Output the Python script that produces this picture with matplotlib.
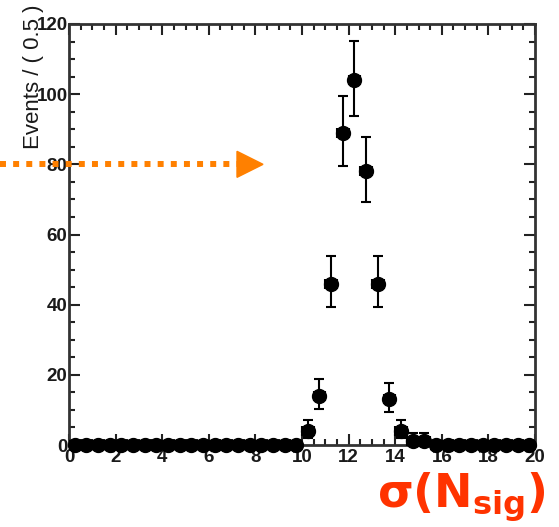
import numpy as np
import matplotlib
matplotlib.use("Agg")
import matplotlib.pyplot as plt
from matplotlib.ticker import MultipleLocator

# ---- data ----
bin_centers = np.arange(0.25, 20.0, 0.5)
nonzero_centers = [10.25, 10.75, 11.25, 11.75, 12.25, 12.75, 13.25, 13.75, 14.25, 14.75, 15.25]
nonzero_counts = [4, 14, 46, 89, 104, 78, 46, 13, 4, 1, 1]
counts = np.zeros_like(bin_centers)
for c, n in zip(nonzero_centers, nonzero_counts):
    counts[np.argmin(np.abs(bin_centers - c))] = n

x_ticks = [0, 2, 4, 6, 8, 10, 12, 14, 16, 18, 20]
y_ticks = [0, 20, 40, 60, 80, 100, 120]
ylabel_text = "Events / ( 0.5 )"
arrow_y = 80

# Poisson (Garwood) errors via Wilson-Hilferty approximation
def poisson_err(n):
    n = np.asarray(n, dtype=float)
    safe = np.maximum(n, 1e-9)
    lo = np.where(n > 0, n - n * (1 - 1 / (9 * safe) - 1 / (3 * np.sqrt(safe))) ** 3, 0)
    up = (n + 1) * (1 - 1 / (9 * (n + 1)) + 1 / (3 * np.sqrt(n + 1))) ** 3 - n
    return lo, up

fig = plt.figure(figsize=(5.59, 5.27), dpi=100)
W, H = 559, 527
ax = fig.add_axes([69 / W, (H - 445) / H, (535 - 69) / W, (445 - 24) / H])

mask = counts > 0
lo, up = poisson_err(counts[mask])

# zero bins: thick band
ax.errorbar(bin_centers[~mask], counts[~mask], xerr=0.25, fmt='o', color='black',
            ms=10, elinewidth=7.5, capsize=0, clip_on=False, zorder=3)
# non-zero bins
ax.errorbar(bin_centers[mask], counts[mask], xerr=0.25, yerr=[lo, up], fmt='o', color='black',
            ms=10, elinewidth=1.5, capsize=3.5, capthick=1.5, clip_on=False, zorder=4)

ax.set_xlim(0, 20)
ax.set_ylim(0, 120)
ax.set_xticks(x_ticks)
ax.set_yticks(y_ticks)
ax.xaxis.set_minor_locator(MultipleLocator(0.5))
ax.yaxis.set_minor_locator(MultipleLocator(5))
ax.tick_params(which='both', direction='in', top=True, right=True, colors='#222222')
ax.tick_params(which='major', length=8, width=1.5)
ax.tick_params(which='minor', length=4.5, width=1.5)
ax.tick_params(axis='y', pad=1)
ax.tick_params(axis='x', pad=3)
for lab in ax.get_xticklabels() + ax.get_yticklabels():
    lab.set_fontfamily('Liberation Sans')
    lab.set_fontweight('bold')
    lab.set_fontsize(13.5)
    lab.set_color('#1a1a1a')
for sp in ax.spines.values():
    sp.set_linewidth(2)
    sp.set_color('#333333')

# y label (clipped at top, as in the reference)
fig.text(34 / W, (H - 149) / H, ylabel_text, rotation=90, ha='center', va='bottom',
         fontfamily='Liberation Sans', fontsize=16, color='#1a1a1a')

# orange dotted arrow
ypix = ax.transData.transform((0, arrow_y))[1]
yf = ypix / H
fig.add_artist(plt.Line2D([0, 237 / W], [yf, yf], color='#FF8000', lw=4.3,
                          linestyle=(0, (1, 1.2)), dash_capstyle='butt', transform=fig.transFigure))
tri = plt.Polygon([[237 / W, yf + 13 / H], [237 / W, yf - 13 / H], [263 / W, yf]],
                  closed=True, color='#FF8000', transform=fig.transFigure)
fig.add_artist(tri)

# x label
fig.text(546 / W, (H - 524) / H, r'$\mathbf{σ(N_{sig})}$', ha='right', va='bottom',
         fontsize=33, color='#FF3300')

fig.savefig('out.png', dpi=100)
